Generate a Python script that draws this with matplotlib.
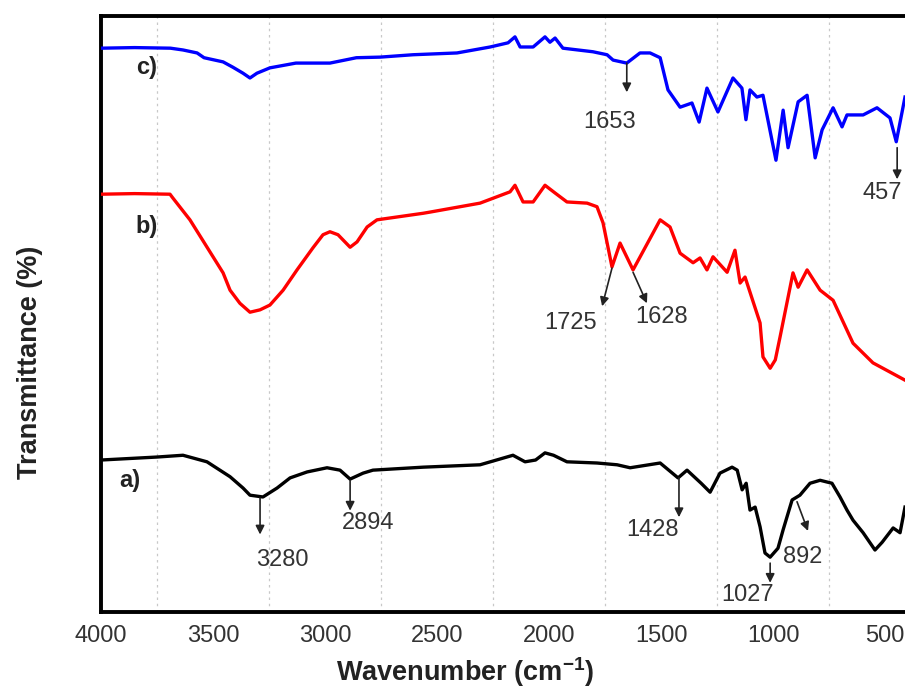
import matplotlib
matplotlib.use("Agg")
import matplotlib.pyplot as plt
from matplotlib.ticker import MultipleLocator

plt.rcParams['font.family'] = ['Liberation Sans', 'DejaVu Sans']
plt.rcParams['mathtext.fontset'] = 'custom'
plt.rcParams['mathtext.rm'] = 'Liberation Sans'
plt.rcParams['mathtext.bf'] = 'Liberation Sans:bold'

# ---- data ----
wn_c = [4000, 3850, 3690, 3634, 3571, 3540, 3455, 3411, 3366, 3335, 3304, 3246, 3130, 2978,
        2860, 2754, 2607, 2411, 2263, 2183, 2152, 2129, 2071, 2018, 1996, 1973, 1938, 1804,
        1741, 1714, 1653, 1594, 1549, 1504, 1469, 1415, 1362, 1330, 1295, 1246, 1179, 1139,
        1121, 1103, 1072, 1045, 987, 955, 933, 888, 848, 812, 781, 732, 692, 670, 598, 536,
        478, 450, 411]
t_c = [94.6, 94.7, 94.6, 94.3, 93.8, 93.0, 92.3, 91.4, 90.4, 89.6, 90.4, 91.3, 92.1, 92.1,
       93.0, 93.1, 93.5, 93.8, 94.8, 95.5, 96.5, 94.8, 94.8, 96.5, 95.6, 96.3, 94.6, 94.0,
       93.5, 92.6, 92.1, 93.8, 93.8, 93.0, 87.6, 84.7, 85.4, 82.2, 87.9, 83.9, 89.6, 87.9,
       82.6, 87.6, 86.4, 86.7, 75.8, 84.2, 77.9, 85.6, 86.7, 76.2, 80.9, 84.6, 81.4, 83.4,
       83.4, 84.6, 82.9, 78.9, 86.4]

wn_b = [4000, 3850, 3692, 3680, 3603, 3455, 3424, 3380, 3335, 3290, 3246, 3187, 3125, 3054,
        3009, 2978, 2942, 2888, 2857, 2812, 2768, 2562, 2531, 2308, 2174, 2152, 2116, 2071,
        2018, 1973, 1920, 1830, 1786, 1759, 1719, 1683, 1625, 1504, 1460, 1415, 1357, 1326,
        1295, 1268, 1205, 1170, 1147, 1125, 1058, 1045, 1013, 990, 969, 911, 888, 848, 790,
        732, 643, 554, 411]
t_b = [70.1, 70.2, 70.1, 69.5, 65.8, 56.9, 54.0, 51.8, 50.3, 50.7, 51.5, 54.0, 57.4, 61.1,
       63.3, 63.8, 63.3, 61.2, 62.1, 64.6, 65.8, 66.9, 67.1, 68.6, 70.5, 71.6, 68.8, 68.8,
       71.6, 70.3, 68.8, 68.6, 68.0, 65.3, 57.9, 61.9, 57.4, 65.8, 64.6, 60.2, 58.6, 59.4,
       57.4, 59.6, 57.0, 60.7, 55.2, 56.2, 48.5, 42.8, 40.9, 42.3, 46.1, 56.9, 54.5, 57.4,
       54.0, 52.3, 45.1, 41.8, 38.9]

wn_a = [4000, 3750, 3634, 3527, 3424, 3366, 3335, 3277, 3214, 3156, 3080, 2991, 2933, 2888,
        2830, 2786, 2562, 2308, 2161, 2107, 2060, 2018, 1980, 1920, 1786, 1696, 1638, 1504,
        1424, 1384, 1321, 1281, 1237, 1183, 1160, 1138, 1120, 1103, 1080, 1058, 1036, 1013,
        978, 955, 915, 880, 835, 790, 737, 701, 670, 643, 598, 545, 513, 464, 433, 411]
t_a = [25.5, 26.0, 26.3, 25.2, 22.7, 20.8, 19.6, 19.3, 20.8, 22.5, 23.5, 24.2, 23.8, 22.3,
       23.3, 23.8, 24.3, 24.7, 26.3, 25.2, 25.5, 26.7, 26.3, 25.2, 25.0, 24.7, 24.2, 25.0,
       22.5, 23.8, 21.6, 20.1, 23.3, 24.3, 23.8, 20.5, 21.6, 17.1, 17.6, 14.3, 9.9, 9.2,
       10.7, 13.8, 18.8, 19.6, 21.6, 22.1, 21.6, 19.3, 17.1, 15.4, 13.3, 10.4, 11.7, 14.1,
       13.3, 17.6]

series_labels = ['a)', 'b)', 'c)']
series_colors = ['black', 'red', 'blue']
xticks = [4000, 3500, 3000, 2500, 2000, 1500, 1000, 500]

# peak annotations: text, arrow tail (x, y), arrow head (x, y), text position (x, y)
peak_labels = ['1653', '457', '1725', '1628', '3280', '2894', '1428', '1027', '892']
peak_tail = [(1653, 92.1), (446, 77.9), (1719, 57.7), (1625, 57.0), (3290, 19.1),
             (2888, 22.1), (1420, 22.5), (1013, 8.2), (893, 18.5)]
peak_head = [(1653, 87.2), (446, 72.6), (1763, 51.3), (1563, 51.8), (3290, 13.0),
             (2888, 17.0), (1420, 15.9), (1013, 4.9), (844, 13.6)]
peak_text = [(1728, 82.2), (513, 70.3), (1906, 48.5), (1496, 49.5), (3192, 8.7),
             (2808, 14.9), (1536, 13.8), (1112, 2.9), (866, 9.2)]
label_pos = [(3871, 22.1), (3795, 64.6), (3795, 91.3)]

# ---- figure ----
fig = plt.figure(figsize=(9.05, 6.91), dpi=100)
ax = fig.add_axes([101 / 905, 79 / 691, 1 - 101 / 905, 596 / 691])

for wn, t, c in zip([wn_a, wn_b, wn_c], [t_a, t_b, t_c], series_colors):
    ax.plot(wn, t, color=c, lw=2.4, solid_joinstyle='round', zorder=3)

for lab, (x, y) in zip(series_labels, label_pos):
    ax.text(x, y, lab, fontsize=17, fontweight='bold', color='#222222',
            ha='center', va='center')

for lab, tail, head, tp in zip(peak_labels, peak_tail, peak_head, peak_text):
    ax.annotate('', xy=head, xytext=tail,
                arrowprops=dict(arrowstyle='-|>', color='#222222', lw=1.2,
                                mutation_scale=13, shrinkA=0, shrinkB=0))
    ax.text(tp[0], tp[1], lab, fontsize=17, color='#333333', ha='center',
            va='center', clip_on=False)

ax.set_xlim(4000, 411)
ax.set_ylim(0, 100)
ax.set_xticks(xticks)
ax.xaxis.set_minor_locator(MultipleLocator(500, offset=250))
ax.grid(which='minor', axis='x', color='#c8c8c8', linestyle=(0, (2, 3)), lw=0.9)
ax.set_axisbelow(True)
ax.set_yticks([])
ax.tick_params(axis='x', which='both', length=0, pad=9, labelsize=17,
               labelcolor='#333333')

for s in ['left', 'bottom', 'top']:
    ax.spines[s].set_linewidth(2.8)
    ax.spines[s].set_color('black')
ax.spines['right'].set_visible(False)

fig.text(465 / 905, 1 - 672 / 691, r'Wavenumber (cm$^{\mathbf{-1}}$)', fontsize=19.5,
         fontweight='bold', color='#222222', ha='center', va='center')
fig.text(30 / 905, 1 - 362 / 691, 'Transmittance (%)', fontsize=19.5, fontweight='bold',
         color='#222222', ha='center', va='center', rotation=90)

fig.savefig('out.png', dpi=100)
